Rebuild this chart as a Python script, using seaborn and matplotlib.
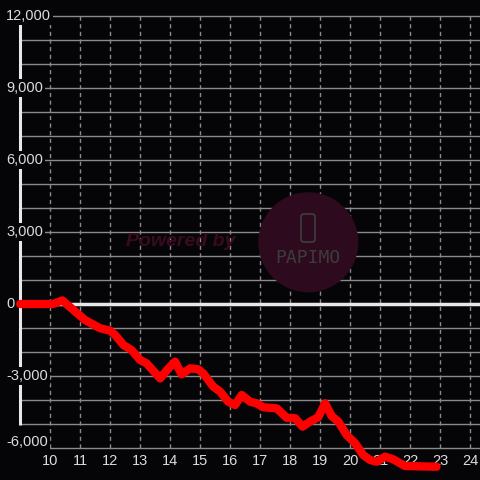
import matplotlib
matplotlib.use("Agg")
import matplotlib.pyplot as plt
import seaborn as sns
import pandas as pd
from matplotlib.patches import Circle, FancyBboxPatch
from matplotlib import transforms

# ---- data ----
hours = [9.0, 10.1, 10.4, 11.16, 11.66, 11.99, 12.16, 12.44, 12.71, 12.99, 13.21,
         13.66, 13.94, 14.16, 14.38, 14.66, 14.93, 15.1, 15.43, 15.66, 15.93, 16.16,
         16.38, 16.66, 16.88, 17.1, 17.55, 17.88, 18.16, 18.41, 18.66, 18.93, 19.16,
         19.38, 19.6, 19.88, 20.16, 20.43, 20.66, 20.88, 21.16, 21.43, 21.82, 22.87]
balance = [0, 0, 150, -670, -1010, -1110, -1290, -1710, -1920, -2330, -2470,
           -3100, -2680, -2400, -2930, -2680, -2720, -2890, -3440, -3650, -4070, -4210,
           -3790, -4070, -4140, -4300, -4350, -4740, -4760, -5110, -4900, -4720, -4140,
           -4670, -4900, -5460, -5800, -6290, -6500, -6570, -6360, -6470, -6750, -6780]
x_ticks = list(range(10, 25))
x_labels = [str(v) for v in x_ticks]
y_ticks = [12000, 9000, 6000, 3000, 0, -3000, -6000]
y_labels = ["12,000", "9,000", "6,000", "3,000", "0", "-3,000", "-6,000"]
y_grid = list(range(-6000, 12001, 1000))

df = pd.DataFrame({"hour": hours, "balance": balance})

BG = "#050508"
TXT = "#dcdcdc"
GRID = "#8a8a8a"

sns.set_style("dark", {"axes.grid": False})
plt.rcParams["font.family"] = ["Liberation Sans", "DejaVu Sans"]

fig = plt.figure(figsize=(4.8, 4.8), dpi=100)
fig.patch.set_facecolor(BG)
ax = fig.add_axes([0, 0, 1, 1])
ax.set_facecolor(BG)
for s in ax.spines.values():
    s.set_visible(False)

X0 = 9.0
XLIM = (10 - 50.3 / 30, 10 + 429.7 / 30)
YLIM = (-7333, 12667)

sns.lineplot(data=df, x="hour", y="balance", color="#ff0000", linewidth=6,
             estimator=None, sort=False, ax=ax, zorder=4,
             solid_capstyle="round", solid_joinstyle="round")
ax.set_xlabel("")
ax.set_ylabel("")
ax.set_xlim(*XLIM)
ax.set_ylim(*YLIM)
ax.set_xticks([])
ax.set_yticks([])
ax.grid(False)

# watermark
fig.patches.append(Circle((308.3 / 480, 1 - 242.3 / 480), 50 / 480,
                          transform=fig.transFigure, facecolor="#2e0a1e",
                          edgecolor="none", zorder=0.5))
fig.patches.append(FancyBboxPatch((301 / 480, 1 - 242 / 480), 14 / 480, 28 / 480,
                                  boxstyle="round,pad=0,rounding_size=0.006",
                                  transform=fig.transFigure, facecolor="none",
                                  edgecolor="#3c3c3c", linewidth=1.3, zorder=0.6))
fig.text(308 / 480, 1 - 258 / 480, "PAPIMO", color="#3c3c3c", fontsize=13,
         ha="center", va="center", family="DejaVu Sans Mono", zorder=0.6)
fig.text(181 / 480, 1 - 241 / 480, "Powered by", color="#3a0a20", fontsize=14,
         fontweight="bold", fontstyle="italic", ha="center", va="center", zorder=0.6)

# grid
ax.vlines(x_ticks, -6000, 12000, colors=GRID, linestyles=(0, (3, 2.5)),
          linewidth=1, zorder=1)
ax.hlines(y_grid, X0, XLIM[1], colors=GRID, linewidth=1.0, zorder=1)
# zero line and y spine
ax.hlines(0, X0, XLIM[1], colors="#e8e8e8", linewidth=2.5, zorder=2)
ax.vlines(X0, -5050, 12000, colors="#e8e8e8", linewidth=2.2, zorder=2)

# tick labels
ytrans = transforms.blended_transform_factory(ax.transAxes, ax.transData)
for v, lab in zip(y_ticks, y_labels):
    ax.text(6 / 480, max(v, -5750), lab, transform=ytrans, color=TXT, fontsize=10.5,
            ha="left", va="center", zorder=3,
            bbox=dict(facecolor=BG, edgecolor="none", pad=1.5))
xtrans = transforms.blended_transform_factory(ax.transData, ax.transAxes)
for v, lab in zip(x_ticks, x_labels):
    ax.text(v, 1 - 461 / 480, lab, transform=xtrans, color=TXT, fontsize=10.5,
            ha="center", va="center", zorder=3)

fig.savefig("out.png", dpi=100, facecolor=BG)
